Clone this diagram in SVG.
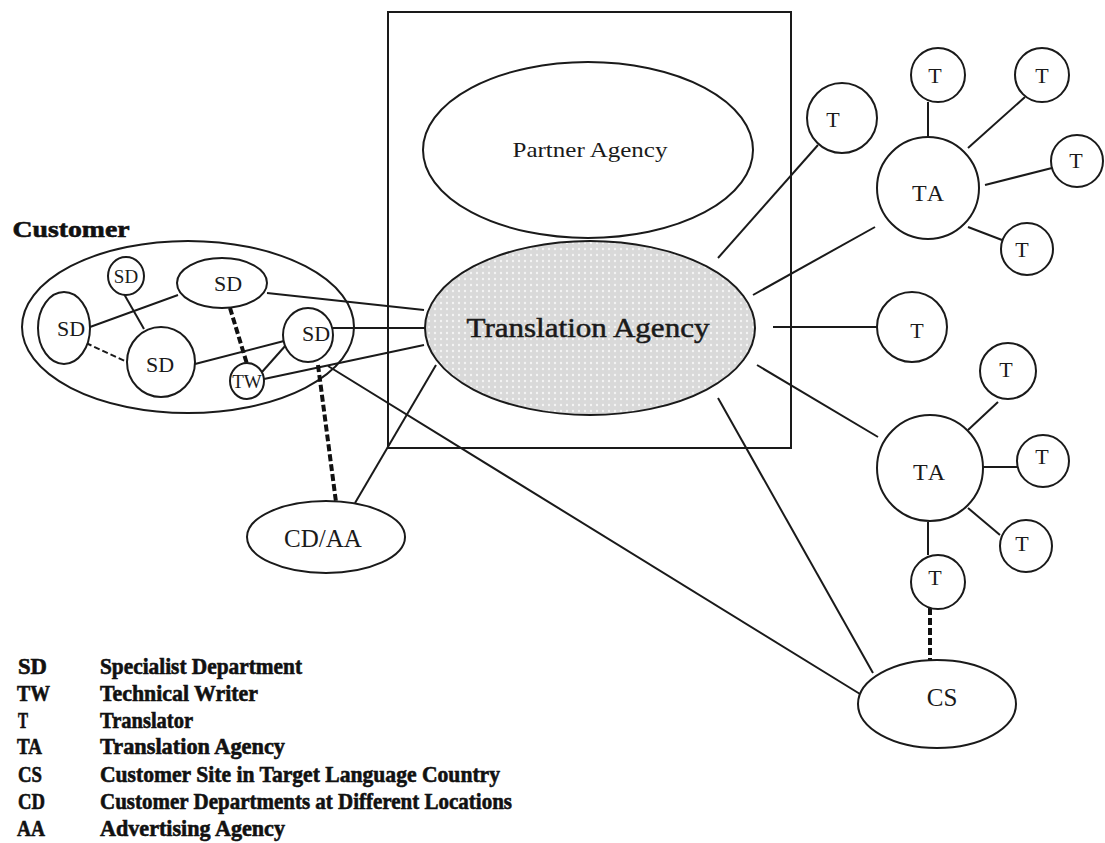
<svg xmlns="http://www.w3.org/2000/svg" width="1105" height="843" viewBox="0 0 1105 843">
<defs>
<pattern id="dots" width="6" height="6" patternUnits="userSpaceOnUse">
<rect width="6" height="6" fill="#d9d9d9"/>
<circle cx="3" cy="3" r="1.2" fill="#f4f4f4"/>
</pattern>
</defs>
<style>
.ln{stroke:#1a1a1a;stroke-width:2;fill:none}
.dsh{stroke:#1a1a1a;stroke-width:2;fill:none;stroke-dasharray:6 3}
.dshk{stroke:#111;stroke-width:4;fill:none;stroke-dasharray:7 3}
.nd{stroke:#1a1a1a;stroke-width:2;fill:#fff}
.tx{font-family:"Liberation Serif",serif;fill:#1a1a1a;text-anchor:middle}
.lg{font-family:"Liberation Serif",serif;font-weight:bold;fill:#111;font-size:23px;stroke:#111;stroke-width:0.6}
</style>
<rect width="1105" height="843" fill="#fff"/>
<g id="frame">
<rect x="388" y="12" width="403" height="436" class="ln"/>
</g>
<g id="customer-group">
<ellipse cx="188" cy="327" rx="166" ry="86" class="ln"/>
<text x="71" y="237" class="lg" font-size="26" text-anchor="middle" textLength="117" lengthAdjust="spacingAndGlyphs">Customer</text>
</g>
<g id="connectors">
<line x1="124" y1="294" x2="144" y2="329" class="ln"/>
<line x1="90" y1="327" x2="178" y2="295" class="ln"/>
<line x1="86" y1="343" x2="127" y2="362" class="dsh"/>
<line x1="230" y1="308" x2="247" y2="364" class="dshk"/>
<line x1="195" y1="364" x2="284" y2="341" class="ln"/>
<line x1="262" y1="372" x2="286" y2="345" class="ln"/>
<line x1="264" y1="379" x2="424" y2="345" class="ln"/>
<line x1="267" y1="293" x2="424" y2="310" class="ln"/>
<line x1="333" y1="328" x2="425" y2="328" class="ln"/>
<line x1="328" y1="366" x2="860" y2="694" class="ln"/>
<line x1="318" y1="365" x2="336" y2="502" class="dshk"/>
<line x1="355" y1="503" x2="436" y2="365" class="ln"/>
<line x1="818" y1="145" x2="718" y2="258" class="ln"/>
<line x1="875" y1="227" x2="753" y2="295" class="ln"/>
<line x1="773" y1="327" x2="877" y2="327" class="ln"/>
<line x1="757" y1="365" x2="878" y2="437" class="ln"/>
<line x1="718" y1="398" x2="873" y2="673" class="ln"/>
<line x1="928" y1="102" x2="928" y2="137" class="ln"/>
<line x1="1025" y1="97" x2="968" y2="148" class="ln"/>
<line x1="985" y1="185" x2="1052" y2="168" class="ln"/>
<line x1="968" y1="227" x2="1002" y2="240" class="ln"/>
<line x1="998" y1="402" x2="968" y2="430" class="ln"/>
<line x1="982" y1="467" x2="1017" y2="467" class="ln"/>
<line x1="968" y1="508" x2="1000" y2="535" class="ln"/>
<line x1="928" y1="522" x2="928" y2="555" class="ln"/>
<line x1="930" y1="608" x2="930" y2="660" class="dshk"/>
</g>
<g id="partner-agency">
<ellipse cx="588" cy="150" rx="165" ry="88" class="nd"/>
<text x="590" y="157" class="tx" font-size="22" fill="#333" textLength="155" lengthAdjust="spacingAndGlyphs">Partner Agency</text>
</g>
<g id="translation-agency">
<ellipse cx="590" cy="328" rx="165" ry="87" class="nd" style="fill:url(#dots)"/>
<text x="588" y="337" class="tx" font-size="27" stroke="#1a1a1a" stroke-width="0.5" textLength="243" lengthAdjust="spacingAndGlyphs">Translation Agency</text>
</g>
<g id="sd-small">
<ellipse cx="126" cy="276" rx="18" ry="19" class="nd"/>
<text x="126" y="283" class="tx" font-size="19">SD</text>
</g>
<g id="sd-top">
<ellipse cx="222" cy="283" rx="45" ry="25" class="nd"/>
<text x="228" y="291" class="tx" font-size="22">SD</text>
</g>
<g id="sd-left">
<ellipse cx="64" cy="328" rx="26" ry="36" class="nd"/>
<text x="71" y="336" class="tx" font-size="22">SD</text>
</g>
<g id="sd-mid">
<ellipse cx="161" cy="362" rx="34" ry="35" class="nd"/>
<text x="160" y="372" class="tx" font-size="22">SD</text>
</g>
<g id="sd-right">
<ellipse cx="308" cy="335" rx="25" ry="27" class="nd"/>
<text x="316" y="341" class="tx" font-size="22">SD</text>
</g>
<g id="tw">
<ellipse cx="247" cy="381" rx="17" ry="18" class="nd"/>
<text x="247" y="388" class="tx" font-size="19">TW</text>
</g>
<g id="cd-aa">
<ellipse cx="326" cy="537" rx="79" ry="36" class="nd"/>
<text x="323" y="547" class="tx" font-size="25">CD/AA</text>
</g>
<g id="t-a">
<circle cx="842" cy="118" r="35" class="nd"/>
<text x="833" y="127" class="tx" font-size="22">T</text>
</g>
<g id="ta-top">
<circle cx="928" cy="188" r="51" class="nd"/>
<text x="929" y="201" class="tx" font-size="24" letter-spacing="2">TA</text>
</g>
<g id="t-b">
<circle cx="938" cy="75" r="27" class="nd"/>
<text x="935" y="83" class="tx" font-size="22">T</text>
</g>
<g id="t-c">
<circle cx="1042" cy="75" r="27" class="nd"/>
<text x="1042" y="83" class="tx" font-size="22">T</text>
</g>
<g id="t-d">
<circle cx="1077" cy="161" r="26" class="nd"/>
<text x="1076" y="168" class="tx" font-size="22">T</text>
</g>
<g id="t-e">
<circle cx="1027" cy="249" r="26" class="nd"/>
<text x="1022" y="257" class="tx" font-size="22">T</text>
</g>
<g id="t-f">
<circle cx="912" cy="327" r="35" class="nd"/>
<text x="917" y="338" class="tx" font-size="22">T</text>
</g>
<g id="ta-bottom">
<circle cx="930" cy="468" r="53" class="nd"/>
<text x="930" y="480" class="tx" font-size="24" letter-spacing="2">TA</text>
</g>
<g id="t-g">
<circle cx="1008" cy="371" r="28" class="nd"/>
<text x="1006" y="377" class="tx" font-size="22">T</text>
</g>
<g id="t-h">
<circle cx="1043" cy="461" r="26" class="nd"/>
<text x="1042" y="464" class="tx" font-size="22">T</text>
</g>
<g id="t-i">
<circle cx="1026" cy="546" r="26" class="nd"/>
<text x="1022" y="551" class="tx" font-size="22">T</text>
</g>
<g id="t-j">
<circle cx="938" cy="582" r="27" class="nd"/>
<text x="935" y="585" class="tx" font-size="22">T</text>
</g>
<g id="cs">
<ellipse cx="937" cy="704" rx="79" ry="44" class="nd"/>
<text x="942" y="706" class="tx" font-size="25">CS</text>
</g>
<g id="legend">
<text x="18" y="674" class="lg" textLength="29" lengthAdjust="spacingAndGlyphs">SD</text>
<text x="100" y="674" class="lg" textLength="202" lengthAdjust="spacingAndGlyphs">Specialist Department</text>
<text x="17" y="701" class="lg" textLength="33" lengthAdjust="spacingAndGlyphs">TW</text>
<text x="100" y="701" class="lg" textLength="158" lengthAdjust="spacingAndGlyphs">Technical Writer</text>
<text x="18" y="728" class="lg" textLength="10" lengthAdjust="spacingAndGlyphs">T</text>
<text x="100" y="728" class="lg" textLength="93" lengthAdjust="spacingAndGlyphs">Translator</text>
<text x="17" y="754" class="lg" textLength="25" lengthAdjust="spacingAndGlyphs">TA</text>
<text x="100" y="754" class="lg" textLength="185" lengthAdjust="spacingAndGlyphs">Translation Agency</text>
<text x="18" y="782" class="lg" textLength="24" lengthAdjust="spacingAndGlyphs">CS</text>
<text x="100" y="782" class="lg" textLength="400" lengthAdjust="spacingAndGlyphs">Customer Site in Target Language Country</text>
<text x="18" y="809" class="lg" textLength="27" lengthAdjust="spacingAndGlyphs">CD</text>
<text x="100" y="809" class="lg" textLength="412" lengthAdjust="spacingAndGlyphs">Customer Departments at Different Locations</text>
<text x="17" y="836" class="lg" textLength="28" lengthAdjust="spacingAndGlyphs">AA</text>
<text x="100" y="836" class="lg" textLength="185" lengthAdjust="spacingAndGlyphs">Advertising Agency</text>
</g>
</svg>
